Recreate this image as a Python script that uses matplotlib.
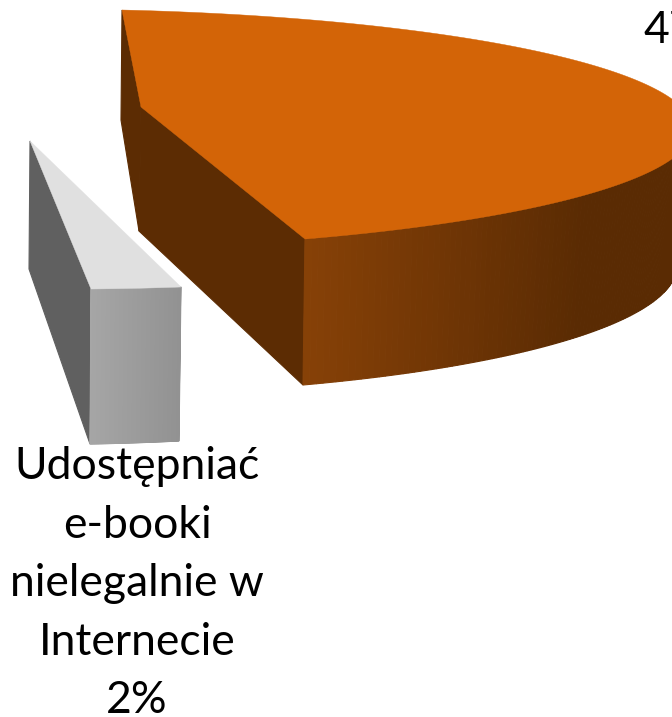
import numpy as np
import matplotlib
matplotlib.use('Agg')
import matplotlib.pyplot as plt

labels = ['', 'Udostępniać\ne-booki\nnielegalnie w\nInternecie']
values = [47, 2]
value_labels = ['47%', '2%']

# where the unit pie lands on the picture (camera of the 3D view, in pixels)
# centre, first rim point, middle rim point, last rim point
ORANGE_TOP = [(141, 107), (122, 10), (669, 97), (305, 239)]
ORANGE_BOTTOM = [(139, 231), (121, 120), (654, 229), (303, 385)]
# the small slice is so thin that three points do
GREY_TOP = [(30, 141), (91, 289), (181, 287)]
GREY_BOTTOM = [(29, 269), (90, 444), (179, 441)]


def fit_plane(points, angle):
    # homography from the unit circle to the picture
    t = [0, angle / 2, angle]
    src = [(0, 0)] + [(np.cos(a), np.sin(a)) for a in t]
    rows, rhs = [], []
    for (u, v), (x, y) in zip(src, points):
        rows.append([u, v, 1, 0, 0, 0, -u * x, -v * x])
        rows.append([0, 0, 0, u, v, 1, -u * y, -v * y])
        rhs += [x, y]
    h = np.linalg.solve(np.array(rows, float), np.array(rhs, float))
    return np.append(h, 1).reshape(3, 3)


def fit_affine(points, angle):
    c, a, b = [np.array(p, float) for p in points]
    u = a - c
    v = ((b - c) - u * np.cos(angle)) / np.sin(angle)
    return np.array([[u[0], v[0], c[0]], [u[1], v[1], c[1]], [0, 0, 1]])


def project(h, t):
    p = h @ np.array([np.cos(t), np.sin(t), np.ones_like(t)])
    return p[0] / p[2], p[1] / p[2]


def draw_slice(ax, top, bottom, angle, face, side, end_side, front, front_x, whole_rim):
    t = np.linspace(0, angle, 300)
    xt, yt = project(top, t)
    xb, yb = project(bottom, t)
    ct, cb = top[:2, 2], bottom[:2, 2]

    ax.fill([xt[0], ct[0], cb[0], xb[0]], [yt[0], ct[1], cb[1], yb[0]],
            color=side, lw=0.8)
    if end_side:
        ax.fill([xt[-1], ct[0], cb[0], xb[-1]], [yt[-1], ct[1], cb[1], yb[-1]],
                color=end_side, lw=0.8)

    # rim wall, only the part facing the viewer, one strip per step for the shading
    first = 0 if whole_rim else np.argmax(xt)
    mid = (xt[:-1] + xt[1:]) / 2
    r = np.interp(mid, front_x, [c[0] for c in front])
    g = np.interp(mid, front_x, [c[1] for c in front])
    b = np.interp(mid, front_x, [c[2] for c in front])
    for i in range(first, len(t) - 1):
        ax.fill([xt[i], xt[i + 1], xb[i + 1], xb[i]], [yt[i], yt[i + 1], yb[i + 1], yb[i]],
                facecolor=(r[i], g[i], b[i]), edgecolor=(r[i], g[i], b[i]), lw=0.8)

    ax.fill(np.r_[ct[0], xt], np.r_[ct[1], yt], color=face, lw=0.3)


fig = plt.figure(figsize=(6.72, 7.17), dpi=100, facecolor='white')
ax = fig.add_axes([0, 0, 1, 1])
ax.set_xlim(0, 672)
ax.set_ylim(717, 0)
ax.axis('off')

angle0 = values[0] / 100 * 2 * np.pi
draw_slice(ax, fit_plane(ORANGE_TOP, angle0), fit_plane(ORANGE_BOTTOM, angle0), angle0,
           '#d36407', '#5c2c03', '#5c2c03',
           [(0x87 / 255, 0x41 / 255, 0x07 / 255), (0x5a / 255, 0x2b / 255, 0x03 / 255)], [305, 585],
           False)

angle1 = values[1] / 100 * 2 * np.pi
draw_slice(ax, fit_affine(GREY_TOP, angle1), fit_affine(GREY_BOTTOM, angle1), angle1,
           '#e0e0e0', '#606060', None,
           [(0xa6 / 255,) * 3, (0x92 / 255,) * 3], [91, 181],
           True)

plt.rcParams['font.family'] = ['Lato', 'DejaVu Sans']
ax.text(137, 713, labels[1] + '\n' + value_labels[1], ha='center', va='baseline',
        fontsize=32, color='black', linespacing=1.53, multialignment='center')
ax.text(643, 43, value_labels[0], ha='left', va='baseline', fontsize=32, color='black')

fig.savefig('out.png', dpi=100)
